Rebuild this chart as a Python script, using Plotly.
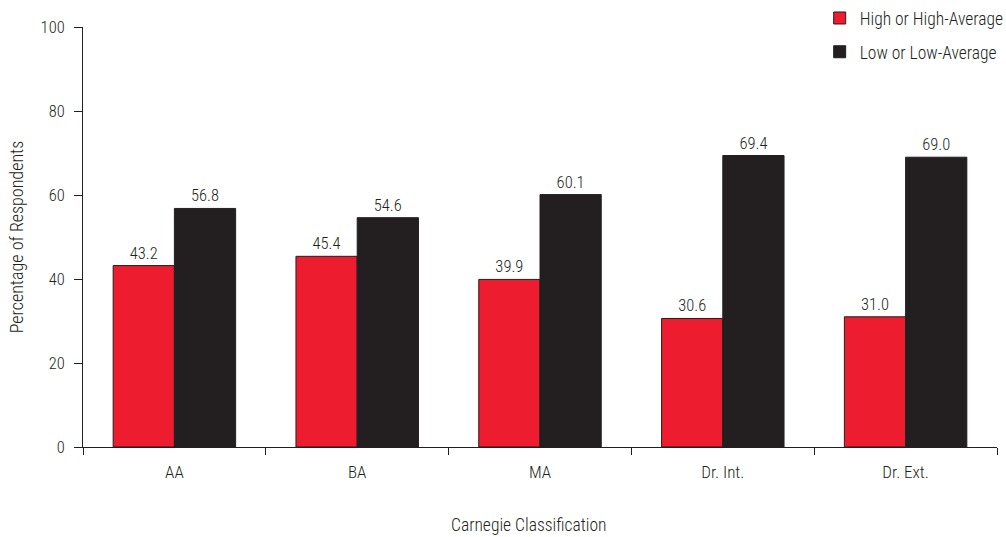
import plotly.graph_objects as go

categories = ["AA", "BA", "MA", "Dr. Int.", "Dr. Ext."]
high_vals = [43.2, 45.4, 39.9, 30.6, 31.0]
low_vals = [56.8, 54.6, 60.1, 69.4, 69.0]
series_names = ["High or High-Average", "Low or Low-Average"]
y_ticks = [0, 20, 40, 60, 80, 100]
x_title = "Carnegie Classification"
y_title = "Percentage of Respondents"

FONT = "Roboto Condensed, Liberation Sans Narrow, sans-serif"
TXT = "#231F20"
W = 300

fig = go.Figure()
fig.add_trace(go.Bar(
    x=categories, y=high_vals, name=series_names[0], legendgroup="a",
    marker=dict(color="#ED1C2E", line=dict(color="#231F20", width=1)),
    text=[f"{v:.1f}" for v in high_vals], textposition="outside",
    textfont=dict(family=FONT, size=16.5, color=TXT, weight=W), cliponaxis=False,
))
fig.add_trace(go.Bar(
    x=categories, y=low_vals, name=series_names[1], legendgroup="b",
    marker=dict(color="#231F20", line=dict(color="#231F20", width=1)),
    text=[f"{v:.1f}" for v in low_vals], textposition="outside",
    textfont=dict(family=FONT, size=16.5, color=TXT, weight=W), cliponaxis=False,
))

fig.update_layout(
    width=1006, height=537,
    margin=dict(l=83, r=9, t=27, b=90, autoexpand=False),
    paper_bgcolor="white", plot_bgcolor="white",
    barmode="group", bargap=0.33, bargroupgap=0,
    font=dict(family=FONT, size=16, color=TXT, weight=W),
    showlegend=True,
    legend=dict(x=0.806, xanchor="left", y=1.064, yanchor="top",
                font=dict(family=FONT, size=17.5, color=TXT, weight=W),
                traceorder="grouped", tracegroupgap=8,
                itemwidth=30, bgcolor="rgba(0,0,0,0)"),
    xaxis=dict(
        showline=True, linecolor=TXT, linewidth=1,
        ticks="outside", tickson="boundaries", ticklen=7, tickcolor=TXT,
        ticklabelstandoff=10,
        showgrid=False, tickfont=dict(family=FONT, size=17, color=TXT, weight=W),
    ),
    yaxis=dict(
        range=[0, 100], tickvals=y_ticks, showline=True, linecolor=TXT, linewidth=1,
        ticks="outside", ticklen=8, tickcolor=TXT, showgrid=False, zeroline=False,
        ticklabelstandoff=6,
        tickfont=dict(family=FONT, size=16.5, color=TXT, weight=W),
        title=dict(text=y_title, standoff=12,
                   font=dict(family=FONT, size=18, color=TXT, weight=W)),
    ),
    annotations=[dict(
        text=x_title, xref="paper", yref="paper", x=0.488, y=-0.186,
        xanchor="center", yanchor="middle", showarrow=False,
        font=dict(family=FONT, size=17.5, color=TXT, weight=W),
    )],
)

fig.write_html("out.html")
